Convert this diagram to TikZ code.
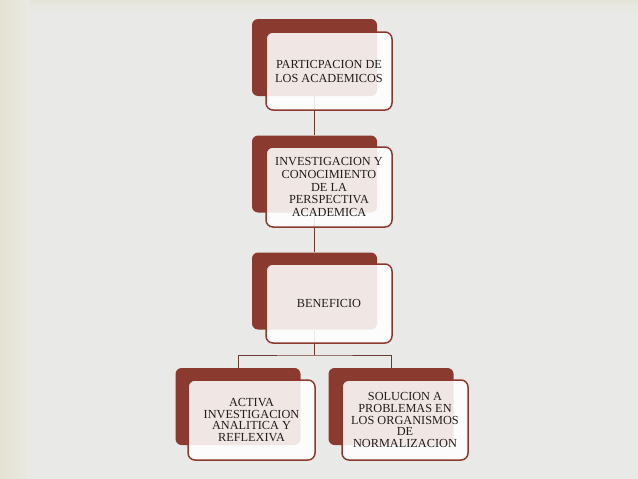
\documentclass[tikz,border=0pt]{standalone}
\usepackage{fontspec}
\setmainfont{Liberation Serif}
\usetikzlibrary{calc}
\definecolor{boxred}{HTML}{8B3A2F}
\definecolor{linkbrown}{HTML}{6A3B31}
\definecolor{bgbeige}{HTML}{E4E2D2}
\definecolor{bggray}{HTML}{E9EAE7}
\definecolor{textdark}{HTML}{221C1C}
\begin{document}
\begin{tikzpicture}[x=1pt,y=-1pt,
  backbox/.style={draw=none, fill=boxred, rounded corners=6pt, minimum width=125pt, minimum height=77pt, inner sep=0pt},
  frontbox/.style={draw=boxred, line width=1.5pt, fill=white, fill opacity=0.88, text opacity=1, text=textdark,
    rounded corners=7pt, minimum width=126pt, minimum height=78pt, align=center, inner sep=0pt,
    font=\fontsize{12.3}{12.7}\selectfont},
  link/.style={draw=linkbrown, line width=1pt}]
\useasboundingbox (0,0) rectangle (638,479);
% background
\fill[bggray] (0,0) rectangle (638,479);
\shade[top color=bgbeige, bottom color=bggray, fill opacity=0.6] (0,0) rectangle (638,12);
\shade[left color=bgbeige, right color=bggray] (0,0) rectangle (30,479);
% back boxes
\node[backbox] (b1) at (314.5,57.5) {};
\node[backbox] (b2) at (314.5,174) {};
\node[backbox] (b3) at (314.5,291) {};
\node[backbox] (b4) at (238,406.5) {};
\node[backbox] (b5) at (391,406.5) {};
% connectors (under the front boxes)
\coordinate (j) at (314.5,355);
\draw[link] (b1.south) -- (b2.north);
\draw[link] (b2.south) -- (b3.north);
\draw[link] (b3.south) -- (j);
\draw[link] (b4.north) |- (j) -| (b5.north);
% front boxes
\node[frontbox, font=\fontsize{12.3}{14}\selectfont] (f1) at (329,71) {PARTICPACION DE\\LOS ACADEMICOS};
\node[frontbox, minimum height=80pt] (f2) at (329,187) {INVESTIGACION Y\\CONOCIMIENTO\\DE LA\\PERSPECTIVA\\ACADEMICA};
\node[frontbox, minimum height=79pt] (f3) at (329,303.5) {BENEFICIO};
\node[frontbox, minimum height=80pt, minimum width=127pt, font=\fontsize{12.3}{11.8}\selectfont] (f4) at (251.5,420) {ACTIVA\\INVESTIGACION\\ANALITICA Y\\REFLEXIVA};
\node[frontbox, minimum height=80pt, font=\fontsize{12.3}{11.8}\selectfont] (f5) at (405,420) {SOLUCION A\\PROBLEMAS EN\\LOS ORGANISMOS\\DE\\NORMALIZACION};
\end{tikzpicture}
\end{document}
